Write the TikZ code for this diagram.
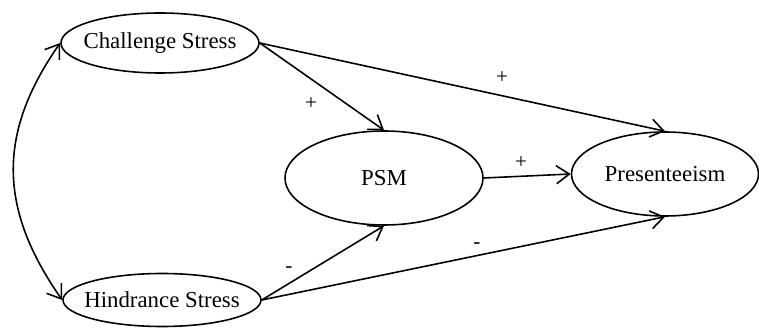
\documentclass[tikz,border=0pt]{standalone}
\usepackage{fontspec}
\setmainfont{Liberation Serif}
\usetikzlibrary{shapes.geometric,arrows.meta}
\begin{document}
\begin{tikzpicture}[
    construct/.style={ellipse, draw, line width=0.9pt, inner sep=0pt, font=\fontsize{13}{15}\selectfont},
    stress/.style={construct, inner xsep=-7pt, minimum width=3.96cm, minimum height=1.2cm},
    link/.style={-{Straight Barb[length=2.6mm,width=3.6mm]}, line width=0.9pt},
    sign/.style={font=\fontsize{12}{14}\selectfont, inner sep=0pt}
]
\useasboundingbox (0,0) rectangle (15.18,-6.56);

% Constructs
\node[stress] (cs) at (3.2,-0.86) {Challenge Stress};
\node[stress, minimum height=1.06cm] (hs) at (3.24,-6.0) {Hindrance Stress};
\node[construct, minimum width=3.96cm, minimum height=1.88cm] (psm) at (7.68,-3.56) {PSM};
\node[construct, minimum width=3.74cm, minimum height=1.68cm] (pre) at (13.3,-3.48) {Presenteeism};

% Paths
\draw[link] (cs.east) -- (pre.north);
\draw[link] (cs.east) -- (psm.north);
\draw[link] (psm.east) -- (pre.west);
\draw[link] (hs.east) -- (pre.south);
\draw[link] (hs.east) -- (psm.south);

% Covariance
\draw[link, {Straight Barb[length=2.6mm,width=3.6mm]}-{Straight Barb[length=2.6mm,width=3.6mm]}] (cs.west) to[out=235, in=125, looseness=1.1] (hs.west);

% Signs
\node[sign] (s1) at (10.04,-1.56) {+};
\node[sign] (s2) at (6.22,-2.08) {+};
\node[sign] (s3) at (10.42,-3.26) {+};
\node[sign] (s4) at (5.78,-5.4) {-};
\node[sign] (s5) at (9.54,-4.92) {-};

\end{tikzpicture}
\end{document}
